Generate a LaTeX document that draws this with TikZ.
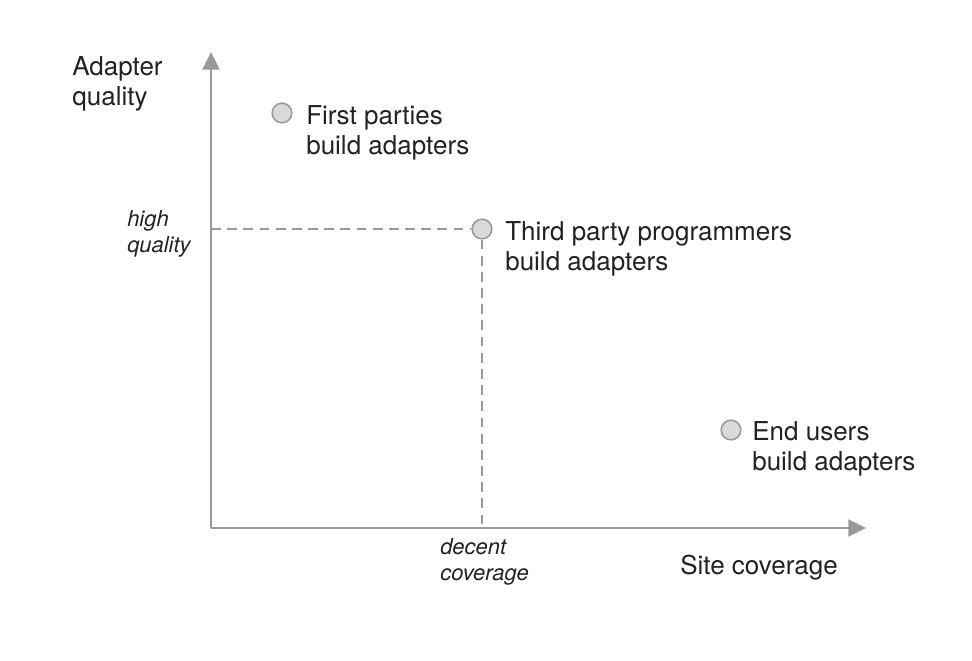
\documentclass[tikz,border=0pt]{standalone}
\usepackage{fontspec}
\setmainfont{TeX Gyre Heros}
\usetikzlibrary{arrows.meta}
\definecolor{axisgray}{HTML}{999999}
\definecolor{dotfill}{HTML}{D9D9D9}
\definecolor{inkgray}{HTML}{222222}
\tikzset{
  axis/.style={draw=axisgray, line width=1.5pt, -{Triangle[length=12.5pt, width=12pt]}},
  guide/.style={draw=axisgray, line width=1.1pt, dash pattern=on 7pt off 4.5pt},
  dot/.style={circle, draw=axisgray, fill=dotfill, line width=1.1pt, minimum size=14pt, inner sep=0pt},
  label/.style={text=inkgray, align=left, anchor=west, inner sep=0pt,
    font=\fontsize{18.5}{21.3}\selectfont},
  tick/.style={text=inkgray, align=left, anchor=west, inner sep=0pt,
    font=\fontsize{15.6}{18.4}\selectfont\itshape}
}
\begin{document}
\begin{tikzpicture}[x=0.025cm, y=-0.025cm]
  \useasboundingbox (0,0) rectangle (972,660);
  \coordinate (origin) at (211,528);
  \coordinate (ytop) at (211,52);
  \coordinate (xend) at (866,528);
  \coordinate (yhigh) at (211,229);
  \coordinate (xdecent) at (482,528);

  \draw[axis] (origin) -- (ytop);
  \draw[axis] (origin) -- (xend);

  \node[dot] (first) at (282,113) {};
  \node[dot] (third) at (482,229) {};
  \node[dot] (endusers) at (731,430) {};

  \draw[guide] (yhigh) -- (third.west);
  \draw[guide] (third.south) -- (xdecent);

  \node[label] (firstlbl) at (306,133) {First parties\\build adapters};
  \node[label] (thirdlbl) at (505,249) {Third party programmers\\build adapters};
  \node[label] (endlbl) at (752,449) {End users\\build adapters};

  \node[label] (ylbl) at (72,84) {Adapter\\quality};
  \node[label] (xlbl) at (680,568) {Site coverage};

  \node[tick] (highlbl) at (127,234) {high\\quality};
  \node[tick] (decentlbl) at (440,562) {decent\\coverage};
\end{tikzpicture}
\end{document}
